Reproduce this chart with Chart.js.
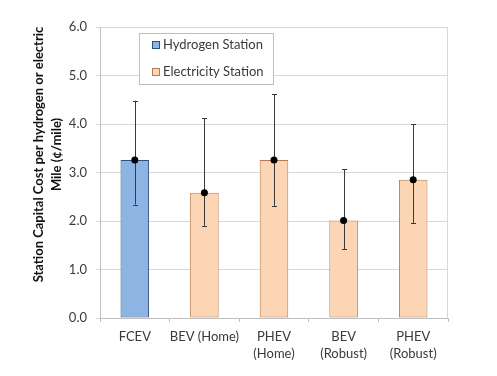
<!DOCTYPE html>
<html><head><meta charset="utf-8">
<script src="https://cdn.jsdelivr.net/npm/chart.js@4.4.1/dist/chart.umd.min.js"></script>
<style>html,body{margin:0;padding:0;background:#fff}#wrap{width:497px;height:376px}</style>
</head><body><div id="wrap"><canvas id="c" width="497" height="376"></canvas></div>
<script>
const categories = ["FCEV", "BEV (Home)", ["PHEV", "(Home)"], ["BEV", "(Robust)"], ["PHEV", "(Robust)"]];
const seriesNames = ["Hydrogen Station", "Electricity Station"];
const hydrogenValues = [3.26, null, null, null, null];
const electricityValues = [null, 2.58, 3.26, 2.01, 2.85];
const meanValues = [3.26, 2.58, 3.26, 2.01, 2.85];
const errorLow = [2.34, 1.90, 2.31, 1.42, 1.95];
const errorHigh = [4.48, 4.12, 4.61, 3.07, 3.99];
const yMin = 0, yMax = 6, yStep = 1;
const yTitle = ["Station Capital Cost per hydrogen or electric", "Mile (\u00a2/mile)"];

const FONT = "Lato, 'Open Sans', sans-serif";
const TXT = '#3a3a3a';

const errorBars = {
  id: 'errorBars',
  beforeDatasetDraw(chart, args) {
    if (args.meta.type !== 'line') return;
    const x = chart.scales.x, y = chart.scales.y, ctx = chart.ctx;
    ctx.save();
    ctx.strokeStyle = '#3a3a3a';
    ctx.lineWidth = 1;
    errorLow.forEach((lo, i) => {
      const px = Math.round(x.getPixelForValue(i)) + 0.5;
      const pl = y.getPixelForValue(lo), ph = y.getPixelForValue(errorHigh[i]);
      ctx.beginPath();
      ctx.moveTo(px, pl); ctx.lineTo(px, ph);
      ctx.moveTo(px - 2.5, Math.round(pl) + 0.5); ctx.lineTo(px + 2.5, Math.round(pl) + 0.5);
      ctx.moveTo(px - 2.5, Math.round(ph) + 0.5); ctx.lineTo(px + 2.5, Math.round(ph) + 0.5);
      ctx.stroke();
    });
    ctx.restore();
  }
};

const frame = {
  id: 'frame',
  afterDraw(chart) {
    const {ctx, chartArea: a} = chart;
    ctx.save();
    ctx.strokeStyle = '#D9D9D9';
    ctx.lineWidth = 1;
    ctx.beginPath();
    ctx.moveTo(Math.round(a.right) - 0.5, a.top);
    ctx.lineTo(Math.round(a.right) - 0.5, a.bottom);
    ctx.stroke();
    // legend
    const lx = a.left + 39, ly = a.top + 6, lw = 134, lh = 51;
    ctx.fillStyle = '#fff';
    ctx.fillRect(lx, ly, lw, lh);
    ctx.strokeStyle = '#BFBFBF';
    ctx.strokeRect(lx + 0.5, ly + 0.5, lw, lh);
    ctx.font = "13px " + FONT;
    ctx.textBaseline = 'middle';
    ctx.textAlign = 'left';
    const ds = chart.data.datasets;
    [0, 1].forEach(k => {
      const cy = ly + 12 + k * 27;
      ctx.fillStyle = ds[k].backgroundColor;
      ctx.fillRect(lx + 13.5, cy - 4, 7, 7);
      ctx.strokeStyle = ds[k].borderColor;
      ctx.strokeRect(lx + 13.5, cy - 3.5, 7, 7);
      ctx.fillStyle = TXT;
      ctx.fillText(ds[k].label, lx + 24, cy);
    });
    // y title
    ctx.fillStyle = '#111';
    ctx.font = "bold 13px " + FONT;
    ctx.textAlign = 'center';
    const cyT = (a.top + a.bottom) / 2 - 18;
    yTitle.forEach((t, i) => {
      ctx.save();
      ctx.translate(39 + i * 18, cyT);
      ctx.rotate(-Math.PI / 2);
      ctx.fillText(t, 0, 0);
      ctx.restore();
    });
    ctx.restore();
  }
};

new Chart(document.getElementById('c'), {
  type: 'bar',
  data: {
    labels: categories,
    datasets: [
      { label: seriesNames[0], data: hydrogenValues, backgroundColor: '#8DB4E2', borderColor: '#2F4F7F', borderWidth: 1, borderSkipped: false, grouped: false, categoryPercentage: 1, barPercentage: 0.41, order: 2 },
      { label: seriesNames[1], data: electricityValues, backgroundColor: '#FCD5B5', borderColor: '#B97A4F', borderWidth: 1, borderSkipped: false, grouped: false, categoryPercentage: 1, barPercentage: 0.41, order: 2 },
      { type: 'line', label: 'mean', data: meanValues, showLine: false, pointRadius: 3.5, pointBackgroundColor: '#000', pointBorderColor: '#000', pointBorderWidth: 0, order: 0 }
    ]
  },
  options: {
    responsive: false,
    animation: false,
    devicePixelRatio: 1,
    layout: { padding: { top: 27, right: 49, bottom: 0, left: 0 } },
    plugins: { legend: { display: false }, tooltip: { enabled: false } },
    scales: {
      x: {
        grid: { offset: true, drawOnChartArea: false, drawTicks: true, tickLength: 4, color: '#BFBFBF' },
        border: { color: '#BFBFBF' },
        ticks: { padding: 6, color: TXT, font: { family: FONT, size: 13, lineHeight: 1.3 }, maxRotation: 0, autoSkip: false },
        afterFit(s) { s.height = 58; }
      },
      y: {
        min: yMin, max: yMax,
        grid: { color: '#D9D9D9', tickLength: 4 },
        border: { color: '#BFBFBF' },
        ticks: { stepSize: yStep, padding: 9, color: TXT, font: { family: FONT, size: 13 }, callback: v => v.toFixed(1) },
        afterFit(s) { s.width = 100; }
      }
    }
  },
  plugins: [errorBars, frame]
});
</script>
</body></html>
